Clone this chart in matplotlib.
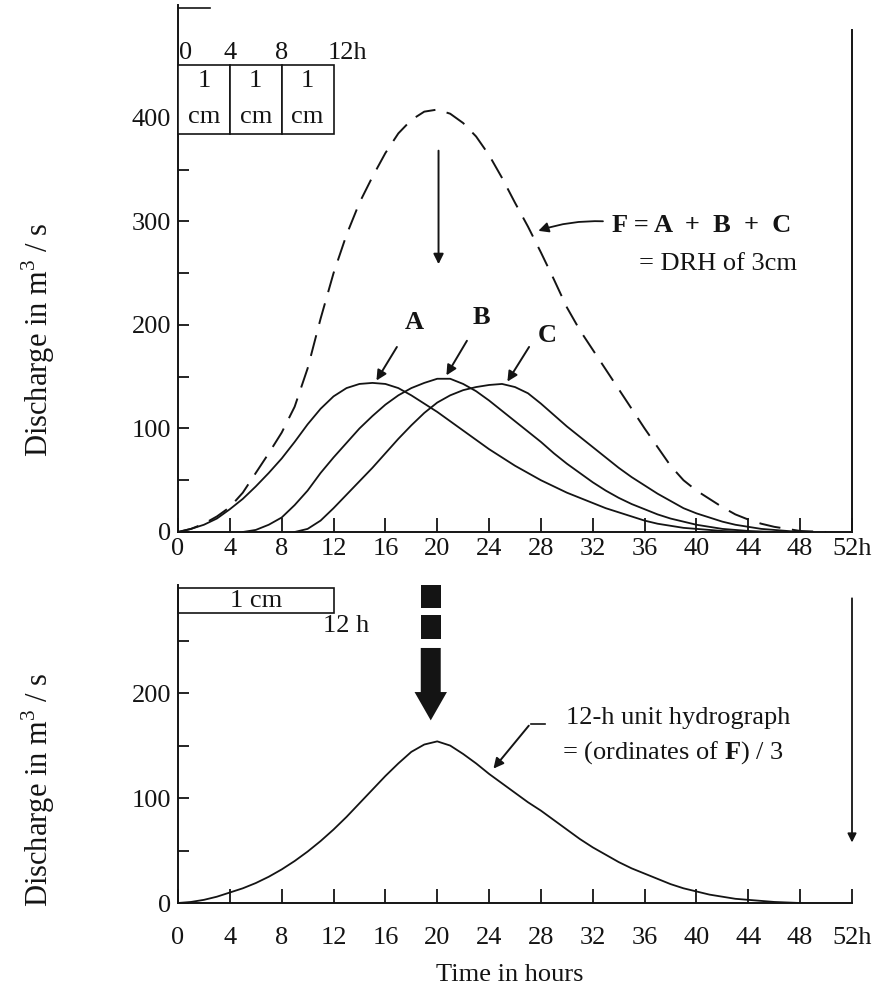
import matplotlib
matplotlib.use("Agg")
import matplotlib.pyplot as plt
from matplotlib.patches import Rectangle, FancyArrow

plt.rcParams['font.family'] = ['Liberation Serif', 'DejaVu Serif']
plt.rcParams['mathtext.fontset'] = 'custom'
plt.rcParams['mathtext.rm'] = 'Liberation Serif'
plt.rcParams['mathtext.bf'] = 'Liberation Serif:bold'

# --- data (hours, m3/s), hourly ordinates ---
# A: first 1 cm, starts at 0 h
t_a = list(range(0, 45))
q_a = [0, 3, 7, 13, 22, 32, 44, 57, 71, 87, 104, 119, 131, 139, 143, 144, 143, 139,
       132, 124, 116, 107, 98, 89, 80, 72, 64, 57, 50, 44, 38, 33, 28, 23, 19, 15,
       11, 8, 6, 4, 3, 2, 1, 0.5, 0]

# B: second 1 cm, lagged
t_b = list(range(5, 47))
q_b = [0, 2, 7, 14, 26, 40, 57, 72, 86, 100, 112, 123, 132, 139, 144, 148, 148, 143,
       136, 127, 117, 107, 97, 87, 76, 66, 57, 48, 40, 33, 27, 22, 17, 13, 10, 7, 5,
       3, 2, 1, 0.5, 0]

# C: third 1 cm, lagged
t_c = list(range(9, 49))
q_c = [0, 3, 11, 23, 36, 49, 62, 76, 90, 103, 115, 125, 132, 137, 140, 142, 143, 140,
       134, 124, 113, 102, 92, 82, 72, 62, 53, 45, 37, 30, 23, 18, 14, 10, 7, 5, 3,
       2, 1, 0]

# F = A + B + C (dashed)
t_f = list(range(0, 51))
q_f = [0, 3, 8, 15, 24, 38, 57, 76, 96, 121, 158, 206, 250, 287, 318, 343, 366, 385,
       398, 406, 408, 404, 395, 382, 364, 342, 318, 295, 270, 244, 217, 195, 176, 157,
       138, 119, 100, 82, 64, 50, 40, 32, 24, 17, 12, 8, 5, 3, 1, 0.5, 0]

# 12-h unit hydrograph
t_uh = list(range(0, 49))
q_uh = [0, 1, 3, 6, 10, 14, 19, 25, 32, 40, 49, 59, 70, 82, 95, 108, 121, 133, 144,
        151, 154, 150, 142, 133, 123, 114, 105, 96, 88, 79, 70, 61, 53, 46, 39, 33,
        28, 23, 18, 14, 11, 8, 6, 4, 3, 2, 1, 0.5, 0]

x_ticks = list(range(0, 53, 4))
x_labels = [str(v) for v in x_ticks[:-1]] + ['52h']

ink = '#141414'
fs = 19

fig = plt.figure(figsize=(8.88, 9.96), dpi=100)
ax1 = fig.add_axes([178 / 888, 464 / 996, 674 / 888, 527 / 996])
ax2 = fig.add_axes([178 / 888, 93 / 996, 674 / 888, 318 / 996])


def style_axes(ax, ymax, yticks, label_y, xpad):
    ax.set_xlim(0, 52)
    ax.set_ylim(0, ymax)
    ax.spines['top'].set_visible(False)
    for s in ax.spines.values():
        s.set_color(ink)
        s.set_linewidth(1.4)
    ax.set_xticks(x_ticks)
    ax.set_xticklabels(x_labels)
    ax.set_yticks(yticks)
    ax.set_yticks(range(50, int(ymax), 100), minor=True)
    ax.tick_params(axis='both', which='both', direction='in', colors=ink,
                   labelsize=fs, width=1.3)
    ax.tick_params(axis='x', length=10, pad=xpad)
    ax.tick_params(axis='y', which='major', length=8, pad=5)
    ax.tick_params(axis='y', which='minor', length=8)
    ax.set_ylabel('Discharge in m$^3$ / s', fontsize=22, color=ink)
    ax.yaxis.set_label_coords(-0.18, label_y)


# ---------------- top panel ----------------
style_axes(ax1, 509, [0, 100, 200, 300, 400], 0.364, 4)
ax1.spines['right'].set_bounds(0, 485)

ax1.plot(t_a, q_a, color=ink, lw=1.3)
ax1.plot(t_b, q_b, color=ink, lw=1.3)
ax1.plot(t_c, q_c, color=ink, lw=1.3)
ax1.plot(t_f, q_f, color=ink, lw=1.4, ls=(0, (11, 6)))

# rainfall boxes 3 x 1 cm
for x0 in (0, 4, 8):
    ax1.add_patch(Rectangle((x0, 384), 4, 67, fill=True, fc='white', ec=ink, lw=1.2,
                            clip_on=False, zorder=3))
    ax1.text(x0 + 2, 436, '1', ha='center', va='center', fontsize=fs, color=ink, zorder=4)
    ax1.text(x0 + 2, 401, 'cm', ha='center', va='center', fontsize=fs, color=ink, zorder=4)
for x0, lab in ((0.6, '0'), (4, '4'), (8, '8'), (13.1, '12h')):
    ax1.text(x0, 463, lab, ha='center', va='center', fontsize=fs, color=ink)
ax1.plot([0, 2.5], [506, 506], color=ink, lw=1.2, clip_on=False)

arrow_kw = dict(arrowstyle='-|>', color=ink, lw=1.4, mutation_scale=15)
ax1.annotate('', xy=(20.1, 256), xytext=(20.1, 371), arrowprops=arrow_kw)
ax1.annotate('', xy=(15.2, 144), xytext=(17.0, 181), arrowprops=arrow_kw)
ax1.annotate('', xy=(20.6, 149), xytext=(22.4, 187), arrowprops=arrow_kw)
ax1.annotate('', xy=(25.3, 143), xytext=(27.2, 181), arrowprops=arrow_kw)
ax1.text(18.2, 202, 'A', ha='center', va='center', fontsize=fs, fontweight='bold', color=ink)
ax1.text(23.4, 207, 'B', ha='center', va='center', fontsize=fs, fontweight='bold', color=ink)
ax1.text(28.5, 190, 'C', ha='center', va='center', fontsize=fs, fontweight='bold', color=ink)

ax1.annotate('', xy=(27.6, 290), xytext=(33.0, 300),
             arrowprops=dict(arrowstyle='-|>', color=ink, lw=1.3, mutation_scale=15,
                             connectionstyle='arc3,rad=0.1'))
ax1.text(33.5, 296, 'F = A  +  B  +  C', ha='left', va='center', fontsize=fs,
         fontweight='bold', color=ink)
ax1.text(35.6, 259, '= DRH of 3cm', ha='left', va='center', fontsize=fs, color=ink)

# ---------------- bottom panel ----------------
style_axes(ax2, 303, [0, 100, 200], 0.355, 17)
ax2.spines['right'].set_visible(False)

ax2.plot(t_uh, q_uh, color=ink, lw=1.3)

ax2.add_patch(Rectangle((0, 276), 12, 24, fill=False, ec=ink, lw=1.2, clip_on=False))
ax2.text(6, 288, '1 cm', ha='center', va='center', fontsize=fs, color=ink)
ax2.text(13, 264, '12 h', ha='center', va='center', fontsize=fs, color=ink)

# thick dashed arrow
ax2.add_patch(Rectangle((18.73, 281), 1.54, 22, color=ink, lw=0, clip_on=False))
ax2.add_patch(Rectangle((18.73, 252), 1.54, 22, color=ink, lw=0))
ax2.add_patch(FancyArrow(19.5, 243, 0, -69, width=1.54, head_width=2.5,
                         head_length=27, length_includes_head=True, color=ink, lw=0))

# right side downward arrow
ax2.annotate('', xy=(52, 55), xytext=(52, 293),
             arrowprops=dict(arrowstyle='-|>', color=ink, lw=1.3, mutation_scale=13),
             annotation_clip=False)

ax2.plot([27.2, 28.3], [171, 171], color=ink, lw=1.2)
ax2.annotate('', xy=(24.2, 126), xytext=(27.2, 171), arrowprops=arrow_kw)
ax2.text(29.9, 176, '12-h unit hydrograph', ha='left', va='center', fontsize=fs, color=ink)
ax2.text(29.6, 143, r'= (ordinates of $\mathbf{F}$) / 3', ha='left', va='center',
         fontsize=fs, color=ink)

fig.text(510 / 888, 1 - 975 / 996, 'Time in hours', ha='center', va='center',
         fontsize=fs, color=ink)

fig.savefig('out.png', dpi=100)
